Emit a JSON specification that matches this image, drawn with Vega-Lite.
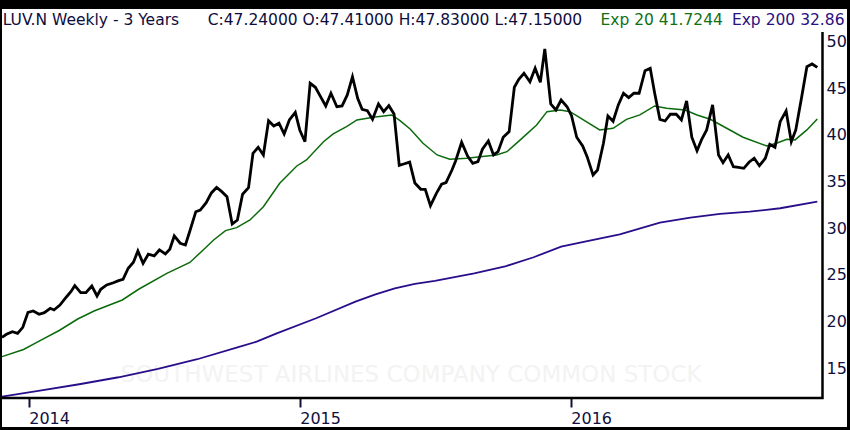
{
  "$schema": "https://vega.github.io/schema/vega-lite/v6.json",
  "width": 845,
  "height": 418,
  "autosize": {"type": "none"},
  "padding": {"left": 2, "top": 9, "right": 3, "bottom": 3},
  "background": "black",
  "datasets": {
    "close": [
      {"date": "2013-11-26", "price": 18.32}, {"date": "2013-12-02", "price": 18.64}, {"date": "2013-12-10", "price": 18.92},
      {"date": "2013-12-17", "price": 18.75}, {"date": "2013-12-24", "price": 19.39}, {"date": "2013-12-31", "price": 21.00},
      {"date": "2014-01-07", "price": 21.14}, {"date": "2014-01-15", "price": 20.79}, {"date": "2014-01-22", "price": 20.96},
      {"date": "2014-01-30", "price": 21.43}, {"date": "2014-02-04", "price": 21.25}, {"date": "2014-02-12", "price": 21.78},
      {"date": "2014-02-21", "price": 22.67}, {"date": "2014-02-27", "price": 23.23}, {"date": "2014-03-04", "price": 23.85},
      {"date": "2014-03-12", "price": 23.10}, {"date": "2014-03-19", "price": 23.10}, {"date": "2014-03-27", "price": 23.82},
      {"date": "2014-04-03", "price": 22.75}, {"date": "2014-04-08", "price": 23.47}, {"date": "2014-04-16", "price": 23.93},
      {"date": "2014-04-25", "price": 24.17}, {"date": "2014-05-02", "price": 24.39}, {"date": "2014-05-08", "price": 24.54},
      {"date": "2014-05-15", "price": 25.72}, {"date": "2014-05-22", "price": 26.36}, {"date": "2014-05-28", "price": 27.57},
      {"date": "2014-06-04", "price": 26.25}, {"date": "2014-06-11", "price": 27.22}, {"date": "2014-06-19", "price": 27.04},
      {"date": "2014-06-26", "price": 27.68}, {"date": "2014-07-04", "price": 27.25}, {"date": "2014-07-10", "price": 27.75},
      {"date": "2014-07-16", "price": 29.18}, {"date": "2014-07-24", "price": 28.40}, {"date": "2014-07-31", "price": 28.21},
      {"date": "2014-08-06", "price": 29.71}, {"date": "2014-08-14", "price": 31.78}, {"date": "2014-08-20", "price": 31.96},
      {"date": "2014-08-28", "price": 32.74}, {"date": "2014-09-04", "price": 33.79}, {"date": "2014-09-11", "price": 34.38},
      {"date": "2014-09-18", "price": 33.93}, {"date": "2014-09-25", "price": 33.39}, {"date": "2014-10-02", "price": 30.46},
      {"date": "2014-10-09", "price": 30.89}, {"date": "2014-10-16", "price": 33.65}, {"date": "2014-10-24", "price": 34.35},
      {"date": "2014-10-30", "price": 38.04}, {"date": "2014-11-06", "price": 38.68}, {"date": "2014-11-13", "price": 37.86},
      {"date": "2014-11-20", "price": 41.53}, {"date": "2014-11-27", "price": 40.97}, {"date": "2014-12-04", "price": 41.26},
      {"date": "2014-12-11", "price": 40.11}, {"date": "2014-12-18", "price": 41.61}, {"date": "2014-12-26", "price": 42.43},
      {"date": "2015-01-01", "price": 40.54}, {"date": "2015-01-08", "price": 39.28}, {"date": "2015-01-15", "price": 45.54},
      {"date": "2015-01-22", "price": 45.11}, {"date": "2015-01-29", "price": 44.11}, {"date": "2015-02-05", "price": 43.11},
      {"date": "2015-02-12", "price": 44.47}, {"date": "2015-02-20", "price": 43.03}, {"date": "2015-02-27", "price": 43.11},
      {"date": "2015-03-06", "price": 44.29}, {"date": "2015-03-13", "price": 46.25}, {"date": "2015-03-20", "price": 43.93},
      {"date": "2015-03-26", "price": 42.76}, {"date": "2015-04-02", "price": 42.61}, {"date": "2015-04-09", "price": 41.68},
      {"date": "2015-04-17", "price": 43.32}, {"date": "2015-04-24", "price": 42.50}, {"date": "2015-05-01", "price": 43.14},
      {"date": "2015-05-08", "price": 42.25}, {"date": "2015-05-15", "price": 36.75}, {"date": "2015-05-21", "price": 36.89},
      {"date": "2015-05-29", "price": 37.09}, {"date": "2015-06-05", "price": 34.86}, {"date": "2015-06-13", "price": 34.18},
      {"date": "2015-06-19", "price": 34.18}, {"date": "2015-06-26", "price": 32.43}, {"date": "2015-07-04", "price": 33.75},
      {"date": "2015-07-11", "price": 34.72}, {"date": "2015-07-17", "price": 34.89}, {"date": "2015-07-25", "price": 36.25},
      {"date": "2015-07-30", "price": 37.25}, {"date": "2015-08-07", "price": 39.22}, {"date": "2015-08-15", "price": 37.75},
      {"date": "2015-08-22", "price": 36.97}, {"date": "2015-08-29", "price": 37.14}, {"date": "2015-09-04", "price": 38.47},
      {"date": "2015-09-12", "price": 39.36}, {"date": "2015-09-19", "price": 37.86}, {"date": "2015-09-25", "price": 38.21},
      {"date": "2015-10-02", "price": 39.76}, {"date": "2015-10-10", "price": 40.36}, {"date": "2015-10-17", "price": 45.11},
      {"date": "2015-10-23", "price": 45.97}, {"date": "2015-10-30", "price": 46.61}, {"date": "2015-11-07", "price": 45.71},
      {"date": "2015-11-14", "price": 47.15}, {"date": "2015-11-21", "price": 45.65}, {"date": "2015-11-27", "price": 49.22},
      {"date": "2015-12-05", "price": 43.32}, {"date": "2015-12-12", "price": 42.68}, {"date": "2015-12-19", "price": 43.75},
      {"date": "2015-12-27", "price": 43.03}, {"date": "2016-01-02", "price": 42.07}, {"date": "2016-01-09", "price": 39.76},
      {"date": "2016-01-17", "price": 38.82}, {"date": "2016-01-23", "price": 37.68}, {"date": "2016-01-31", "price": 35.72},
      {"date": "2016-02-06", "price": 36.25}, {"date": "2016-02-14", "price": 39.11}, {"date": "2016-02-20", "price": 42.04},
      {"date": "2016-02-27", "price": 41.47}, {"date": "2016-03-05", "price": 43.22}, {"date": "2016-03-12", "price": 44.47},
      {"date": "2016-03-19", "price": 44.00}, {"date": "2016-03-26", "price": 44.47}, {"date": "2016-04-02", "price": 44.47},
      {"date": "2016-04-10", "price": 46.89}, {"date": "2016-04-17", "price": 47.15}, {"date": "2016-04-23", "price": 44.47},
      {"date": "2016-04-30", "price": 41.68}, {"date": "2016-05-07", "price": 41.50}, {"date": "2016-05-14", "price": 42.22},
      {"date": "2016-05-22", "price": 42.22}, {"date": "2016-05-29", "price": 41.61}, {"date": "2016-06-05", "price": 43.65},
      {"date": "2016-06-12", "price": 39.76}, {"date": "2016-06-19", "price": 38.32}, {"date": "2016-06-25", "price": 39.47},
      {"date": "2016-07-02", "price": 40.54}, {"date": "2016-07-10", "price": 43.22}, {"date": "2016-07-18", "price": 37.86},
      {"date": "2016-07-24", "price": 37.03}, {"date": "2016-07-31", "price": 37.86}, {"date": "2016-08-07", "price": 36.60},
      {"date": "2016-08-14", "price": 36.54}, {"date": "2016-08-21", "price": 36.43}, {"date": "2016-08-28", "price": 37.08},
      {"date": "2016-09-04", "price": 37.51}, {"date": "2016-09-11", "price": 36.71}, {"date": "2016-09-19", "price": 37.51},
      {"date": "2016-09-25", "price": 39.01}, {"date": "2016-10-02", "price": 38.68}, {"date": "2016-10-09", "price": 41.43},
      {"date": "2016-10-17", "price": 42.57}, {"date": "2016-10-24", "price": 39.28}, {"date": "2016-10-30", "price": 40.54},
      {"date": "2016-11-07", "price": 44.11}, {"date": "2016-11-14", "price": 47.32}, {"date": "2016-11-21", "price": 47.61},
      {"date": "2016-11-28", "price": 47.24}
    ],
    "ema20": [
      {"date": "2013-11-26", "price": 16.25}, {"date": "2013-12-25", "price": 17.02}, {"date": "2014-01-15", "price": 17.91},
      {"date": "2014-02-11", "price": 19.05}, {"date": "2014-03-08", "price": 20.28}, {"date": "2014-03-30", "price": 21.14},
      {"date": "2014-05-07", "price": 22.32}, {"date": "2014-05-29", "price": 23.47}, {"date": "2014-07-06", "price": 25.18},
      {"date": "2014-08-06", "price": 26.34}, {"date": "2014-08-25", "price": 27.76}, {"date": "2014-09-07", "price": 28.75},
      {"date": "2014-09-23", "price": 29.75}, {"date": "2014-10-08", "price": 30.07}, {"date": "2014-10-26", "price": 30.89},
      {"date": "2014-11-13", "price": 32.32}, {"date": "2014-12-05", "price": 34.83}, {"date": "2014-12-28", "price": 36.68},
      {"date": "2015-01-10", "price": 37.32}, {"date": "2015-02-02", "price": 39.28}, {"date": "2015-02-15", "price": 40.11},
      {"date": "2015-03-05", "price": 40.89}, {"date": "2015-03-19", "price": 41.61}, {"date": "2015-04-10", "price": 41.90},
      {"date": "2015-05-05", "price": 42.15}, {"date": "2015-05-16", "price": 41.53}, {"date": "2015-05-30", "price": 40.61},
      {"date": "2015-06-16", "price": 39.11}, {"date": "2015-07-05", "price": 37.86}, {"date": "2015-07-22", "price": 37.40},
      {"date": "2015-08-14", "price": 37.51}, {"date": "2015-09-01", "price": 37.68}, {"date": "2015-09-23", "price": 37.86},
      {"date": "2015-10-07", "price": 38.21}, {"date": "2015-10-25", "price": 39.47}, {"date": "2015-11-16", "price": 41.07},
      {"date": "2015-11-30", "price": 42.50}, {"date": "2015-12-18", "price": 42.68}, {"date": "2015-12-31", "price": 42.50},
      {"date": "2016-01-18", "price": 41.61}, {"date": "2016-02-09", "price": 40.54}, {"date": "2016-02-27", "price": 40.72},
      {"date": "2016-03-16", "price": 41.68}, {"date": "2016-04-03", "price": 42.15}, {"date": "2016-04-23", "price": 43.11},
      {"date": "2016-05-09", "price": 42.86}, {"date": "2016-06-03", "price": 42.68}, {"date": "2016-06-19", "price": 42.15},
      {"date": "2016-07-07", "price": 41.68}, {"date": "2016-07-29", "price": 40.72}, {"date": "2016-08-20", "price": 39.76},
      {"date": "2016-09-21", "price": 38.82}, {"date": "2016-10-04", "price": 39.11}, {"date": "2016-10-18", "price": 39.54},
      {"date": "2016-10-29", "price": 39.47}, {"date": "2016-11-14", "price": 40.54}, {"date": "2016-11-28", "price": 41.72}
    ],
    "ema200": [
      {"date": "2013-11-26", "price": 11.97}, {"date": "2014-01-16", "price": 12.60}, {"date": "2014-03-10", "price": 13.29},
      {"date": "2014-05-02", "price": 14.04}, {"date": "2014-06-24", "price": 14.93}, {"date": "2014-08-16", "price": 15.97},
      {"date": "2014-10-09", "price": 17.25}, {"date": "2014-11-04", "price": 17.85}, {"date": "2014-12-01", "price": 18.75},
      {"date": "2015-01-23", "price": 20.36}, {"date": "2015-03-17", "price": 22.14}, {"date": "2015-04-13", "price": 22.93},
      {"date": "2015-05-09", "price": 23.57}, {"date": "2015-06-05", "price": 24.04}, {"date": "2015-07-02", "price": 24.36},
      {"date": "2015-08-24", "price": 25.18}, {"date": "2015-10-06", "price": 25.96}, {"date": "2015-11-12", "price": 26.90},
      {"date": "2015-12-19", "price": 28.03}, {"date": "2016-01-20", "price": 28.57}, {"date": "2016-03-07", "price": 29.36},
      {"date": "2016-04-30", "price": 30.60}, {"date": "2016-06-10", "price": 31.14}, {"date": "2016-07-20", "price": 31.54},
      {"date": "2016-08-29", "price": 31.78}, {"date": "2016-10-09", "price": 32.15}, {"date": "2016-11-28", "price": 32.86}
    ],
    "frame": [
      {"date": "2013-11-20", "price": 11.82, "step": 1},
      {"date": "2016-12-05", "price": 11.82, "step": 2},
      {"date": "2016-12-05", "price": 51.04, "step": 3}
    ],
    "header": [
      {"date": "2013-11-27", "price": 52.3, "series": "info", "label": "LUV.N Weekly -  3 Years"},
      {"date": "2014-08-30", "price": 52.3, "series": "info", "label": "C:47.24000 O:47.41000 H:47.83000 L:47.15000"},
      {"date": "2016-02-10", "price": 52.3, "series": "exp20", "label": "Exp 20 41.7244"},
      {"date": "2016-08-05", "price": 52.3, "series": "exp200", "label": "Exp 200 32.86"}
    ],
    "watermark": [
      {"date": "2015-05-31", "price": 14.28, "label": "SOUTHWEST AIRLINES COMPANY COMMON STOCK"}
    ]
  },
  "encoding": {
    "x": {
      "field": "date",
      "type": "temporal",
      "title": null,
      "scale": {
        "domain": [
          {"year": 2013, "month": 11, "date": 26, "utc": true},
          {"year": 2017, "month": 1, "date": 7, "utc": true}
        ]
      },
      "axis": {
        "orient": "bottom",
        "offset": -29,
        "domain": false,
        "grid": false,
        "values": [
          {"year": 2014, "month": 1, "date": 1, "utc": true},
          {"year": 2015, "month": 1, "date": 1, "utc": true},
          {"year": 2016, "month": 1, "date": 1, "utc": true}
        ],
        "format": "%Y",
        "tickSize": 9,
        "tickWidth": 2,
        "tickColor": "#111133",
        "labelAlign": "left",
        "labelPadding": 3,
        "labelFont": "DejaVu Sans",
        "labelFontSize": 16,
        "labelColor": "#101040"
      }
    },
    "y": {
      "field": "price",
      "type": "quantitative",
      "title": null,
      "scale": {"domain": [8.71, 53.5], "nice": false, "zero": false},
      "axis": {
        "orient": "right",
        "offset": -25,
        "domain": false,
        "grid": false,
        "ticks": false,
        "values": [15, 20, 25, 30, 35, 40, 45, 50],
        "labelPadding": 4,
        "labelFont": "DejaVu Sans",
        "labelFontSize": 16,
        "labelColor": "#101040"
      }
    }
  },
  "layer": [
    {
      "data": {"name": "watermark"},
      "mark": {"type": "text", "font": "DejaVu Sans", "fontSize": 23, "color": "#f3f3f3", "align": "center", "baseline": "middle"},
      "encoding": {"text": {"field": "label"}}
    },
    {
      "data": {"name": "ema200"},
      "mark": {"type": "line", "color": "#2a0d8a", "strokeWidth": 1.8}
    },
    {
      "data": {"name": "ema20"},
      "mark": {"type": "line", "color": "#0b6a0b", "strokeWidth": 1.5}
    },
    {
      "data": {"name": "close"},
      "mark": {"type": "line", "color": "black", "strokeWidth": 2.8}
    },
    {
      "data": {"name": "frame"},
      "mark": {"type": "line", "color": "black", "strokeWidth": 2.5, "strokeJoin": "miter"},
      "encoding": {"order": {"field": "step", "type": "quantitative"}}
    },
    {
      "data": {"name": "header"},
      "mark": {"type": "text", "font": "DejaVu Sans", "fontSize": 15.5, "align": "left", "baseline": "middle"},
      "encoding": {
        "text": {"field": "label"},
        "color": {
          "field": "series",
          "type": "nominal",
          "legend": null,
          "scale": {"domain": ["info", "exp20", "exp200"], "range": ["#0d0d40", "#117011", "#2a1080"]}
        }
      }
    }
  ],
  "config": {
    "view": {"fill": "white", "stroke": null}
  }
}
